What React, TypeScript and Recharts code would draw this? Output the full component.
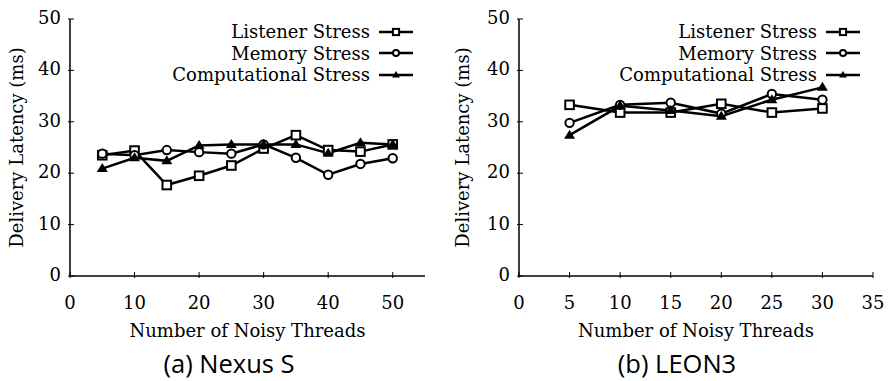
import React from 'react';
import { LineChart, Line, XAxis, YAxis, Legend } from 'recharts';

// Nexus S
const nexusThreads = [5, 10, 15, 20, 25, 30, 35, 40, 45, 50];
const nexusListener = [23.5, 24.4, 17.7, 19.5, 21.5, 24.8, 27.4, 24.5, 24.2, 25.6];
const nexusMemory = [23.8, 23.5, 24.5, 24.1, 23.8, 25.6, 23.0, 19.7, 21.8, 22.9];
const nexusComputational = [20.9, 23.0, 22.4, 25.4, 25.6, 25.6, 25.6, 23.9, 25.9, 25.6];
const nexusXTicks = [0, 10, 20, 30, 40, 50];

// LEON3
const leonThreads = [5, 10, 15, 20, 25, 30];
const leonListener = [33.3, 31.8, 31.8, 33.5, 31.8, 32.6];
const leonMemory = [29.8, 33.3, 33.7, 31.6, 35.4, 34.3];
const leonComputational = [27.4, 33.1, 32.2, 31.1, 34.3, 36.7];
const leonXTicks = [0, 5, 10, 15, 20, 25, 30, 35];

const yTicks = [0, 10, 20, 30, 40, 50];
const seriesNames = ['Listener Stress', 'Memory Stress', 'Computational Stress'];

const FONT = '"DejaVu Serif", serif';
const FS = 18;

type Shape = 'square' | 'circle' | 'triangle';
const shapes: Record<string, Shape> = {
  listener: 'square',
  memory: 'circle',
  computational: 'triangle',
};

function Marker({ cx, cy, shape, small }: { cx: number; cy: number; shape: Shape; small?: boolean }) {
  if (cx == null || cy == null) return null;
  const k = small ? 0.72 : 1;
  if (shape === 'square') {
    const h = 4.3 * k;
    return <rect x={cx - h} y={cy - h} width={2 * h} height={2 * h} fill="#fff" stroke="#000" strokeWidth={2} />;
  }
  if (shape === 'circle') {
    return <circle cx={cx} cy={cy} r={4.2 * k} fill="#fff" stroke="#000" strokeWidth={2} />;
  }
  const w = 5.5 * k;
  return <path d={`M${cx},${cy - 5.5 * k} L${cx + w},${cy + 3.5 * k} L${cx - w},${cy + 3.5 * k} Z`} fill="#000" />;
}

const dotFor = (shape: Shape) => (props: any) => (
  <Marker key={props.key ?? `${shape}-${props.index}`} cx={props.cx} cy={props.cy} shape={shape} />
);

const XTick = ({ x, y, payload }: any) => (
  <g>
    <line x1={x} y1={y} x2={x} y2={y - 6} stroke="#000" strokeWidth={1} />
    <text x={x} y={y + 31} textAnchor="middle" fontFamily={FONT} fontSize={FS} fill="#000">
      {payload.value}
    </text>
  </g>
);

const TopTick = ({ x, y }: any) => <line x1={x} y1={y} x2={x} y2={y + 6} stroke="#000" strokeWidth={1} />;

const YTick = ({ x, y, payload }: any) => (
  <g>
    <line x1={x} y1={y} x2={x + 6} y2={y} stroke="#000" strokeWidth={1} />
    <text x={x - 7} y={y + 5} textAnchor="end" fontFamily={FONT} fontSize={FS} fill="#000">
      {payload.value}
    </text>
  </g>
);

const RightTick = ({ x, y }: any) => <line x1={x} y1={y} x2={x - 6} y2={y} stroke="#000" strokeWidth={1} />;

const renderLegend = ({ payload }: any) => {
  const items = [...(payload || [])].sort(
    (a: any, b: any) => seriesNames.indexOf(a.value) - seriesNames.indexOf(b.value)
  );
  return (
    <div style={{ fontFamily: FONT, fontSize: FS, color: '#000' }}>
      {items.map((item: any) => (
        <div
          key={item.value}
          style={{ display: 'flex', justifyContent: 'flex-end', alignItems: 'center', height: 21.5, lineHeight: '21.5px' }}
        >
          <span style={{ marginRight: 9 }}>{item.value}</span>
          <svg width={34} height={14}>
            <line x1={0} y1={7} x2={34} y2={7} stroke="#000" strokeWidth={2.5} />
            <Marker cx={17} cy={7} shape={shapes[item.dataKey]} small />
          </svg>
        </div>
      ))}
    </div>
  );
};

interface PanelProps {
  threads: number[];
  listener: number[];
  memory: number[];
  computational: number[];
  xMax: number;
  xTicks: number[];
  yAxisWidth: number;
  rightMargin: number;
  labelOffset: number;
  legendRight: number;
}

function Panel({ threads, listener, memory, computational, xMax, xTicks, yAxisWidth, rightMargin, labelOffset, legendRight }: PanelProps) {
  const data = threads.map((t, i) => ({
    threads: t,
    listener: listener[i],
    memory: memory[i],
    computational: computational[i],
  }));

  return (
    <LineChart width={444} height={345} data={data} margin={{ top: 19, right: rightMargin, bottom: 0, left: 0 }}>
      <XAxis
        dataKey="threads"
        type="number"
        domain={[0, xMax]}
        ticks={xTicks}
        tickSize={0}
        tickLine={false}
        tick={<XTick />}
        height={69}
        axisLine={{ stroke: '#000', strokeWidth: 1.5 }}
        label={{ value: 'Number of Noisy Threads', position: 'insideTop', offset: 48, fill: '#000', fontSize: FS, fontFamily: FONT }}
      />
      <XAxis
        xAxisId="top"
        orientation="top"
        type="number"
        domain={[0, xMax]}
        ticks={xTicks}
        tickSize={0}
        tickLine={false}
        tick={<TopTick />}
        height={0}
        axisLine={{ stroke: '#000', strokeWidth: 1.5 }}
      />
      <YAxis
        type="number"
        domain={[0, 50]}
        ticks={yTicks}
        tickSize={0}
        tickLine={false}
        tick={<YTick />}
        width={yAxisWidth}
        axisLine={{ stroke: '#000', strokeWidth: 1.5 }}
        label={{
          value: 'Delivery Latency (ms)',
          angle: -90,
          position: 'insideLeft',
          offset: labelOffset,
          style: { textAnchor: 'middle' },
          fill: '#000',
          fontSize: FS,
          fontFamily: FONT,
        }}
      />
      <YAxis
        yAxisId="right"
        orientation="right"
        type="number"
        domain={[0, 50]}
        ticks={yTicks}
        tickSize={0}
        tickLine={false}
        tick={<RightTick />}
        width={0}
        axisLine={{ stroke: '#000', strokeWidth: 1.5 }}
      />
      <Legend
        content={renderLegend}
        layout="vertical"
        align="center"
        verticalAlign="middle"
        wrapperStyle={{ top: 21, right: legendRight, left: 'auto', bottom: 'auto', width: 'auto' }}
      />
      <Line dataKey="listener" name={seriesNames[0]} stroke="#000" strokeWidth={2.5} dot={dotFor('square')} isAnimationActive={false} />
      <Line dataKey="memory" name={seriesNames[1]} stroke="#000" strokeWidth={2.5} dot={dotFor('circle')} isAnimationActive={false} />
      <Line dataKey="computational" name={seriesNames[2]} stroke="#000" strokeWidth={2.5} dot={dotFor('triangle')} isAnimationActive={false} />
    </LineChart>
  );
}

const captionStyle: React.CSSProperties = {
  position: 'absolute',
  top: 348,
  width: 300,
  textAlign: 'center',
  fontFamily: '"Open Sans", "Noto Sans", sans-serif',
  fontSize: 25.5,
  lineHeight: '30px',
  color: '#000',
};

export default function App() {
  return (
    <div style={{ position: 'absolute', left: 0, top: 0, width: 888, height: 381, background: '#fff' }}>
      <div style={{ position: 'absolute', left: 0, top: 0 }}>
        <Panel
          threads={nexusThreads}
          listener={nexusListener}
          memory={nexusMemory}
          computational={nexusComputational}
          xMax={55}
          xTicks={nexusXTicks}
          yAxisWidth={70}
          rightMargin={19}
          labelOffset={17}
          legendRight={31}
        />
      </div>
      <div style={{ position: 'absolute', left: 444, top: 0 }}>
        <Panel
          threads={leonThreads}
          listener={leonListener}
          memory={leonMemory}
          computational={leonComputational}
          xMax={35}
          xTicks={leonXTicks}
          yAxisWidth={75}
          rightMargin={15}
          labelOffset={19}
          legendRight={28}
        />
      </div>
      <div style={{ ...captionStyle, left: 229 - 150 }}>(a) Nexus S</div>
      <div style={{ ...captionStyle, left: 677 - 150 }}>(b) LEON3</div>
    </div>
  );
}
